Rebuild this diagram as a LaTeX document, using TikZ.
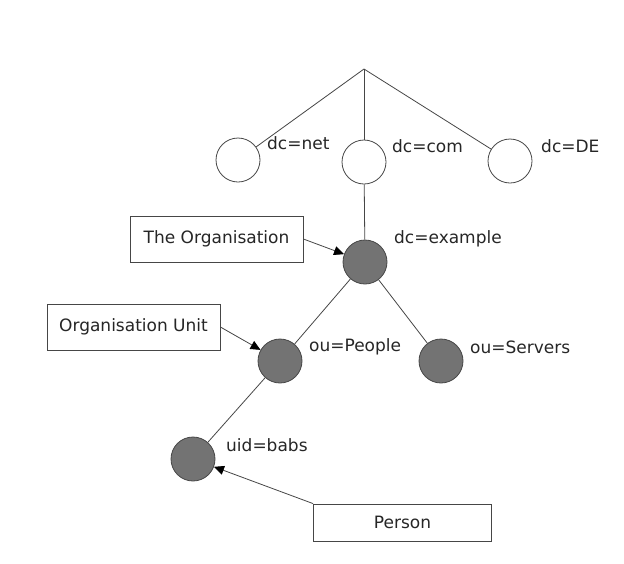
\documentclass[tikz,border=0pt]{standalone}
\usepackage{fontspec}
\setmainfont{DejaVu Sans}
\usepackage{tikz}
\usetikzlibrary{arrows.meta,positioning}
\definecolor{entgray}{RGB}{115,115,115}
\definecolor{edgegray}{RGB}{70,70,70}

\begin{document}
\begin{tikzpicture}[
    x=1pt, y=-1pt,
    dom/.style={circle, draw=edgegray, thick, fill=white, minimum size=44pt, inner sep=0pt},
    ent/.style={dom, fill=entgray},
    lbl/.style={anchor=west, font=\fontsize{17}{19}\selectfont, text=black!85, inner sep=0pt},
    callout/.style={rectangle, draw=edgegray, thick, fill=white, minimum width=173pt, minimum height=46pt, align=center, font=\fontsize{17}{19}\selectfont, text=black!85},
    link/.style={thick, edgegray},
    pointer/.style={-{Triangle[length=10pt,width=9pt,color=black]}, thick, edgegray}
]
\useasboundingbox (0,0) rectangle (624,563);

% ============ domain components ============
\coordinate (root) at (364,69);
\node[dom] (net) at (238,160) {};
\node[dom] (com) at (364,162) {};
\node[dom] (de)  at (510,161) {};
\node[lbl] (net-l) at (267,143) {dc=net};
\node[lbl] (com-l) at (392,146) {dc=com};
\node[lbl] (de-l)  at (541,146) {dc=DE};

\draw[link] (root) -- (net);
\draw[link] (root) -- (com);
\draw[link] (root) -- (de);

% ============ entries ============
\node[ent] (example) at (365,262) {};
\node[ent] (people)  at (280,361) {};
\node[ent] (servers) at (441,361) {};
\node[ent] (babs)    at (193,459) {};
\node[lbl] (example-l) at (394,239) {dc=example};
\node[lbl] (people-l)  at (309,347) {ou=People};
\node[lbl] (servers-l) at (470,347) {ou=Servers};
\node[lbl] (babs-l)    at (226,445) {uid=babs};

\draw[link] (com) -- (example);
\draw[link] (example) -- (people);
\draw[link] (example) -- (servers);
\draw[link] (people) -- (babs);

% ============ callouts ============
\node[callout] (org)    at (216.5,239) {The Organisation};
\node[callout] (unit)   at (133.5,327) {Organisation Unit};
\node[callout, minimum width=178pt, minimum height=37pt] (person) at (402.5,522.5) {Person};

\draw[pointer] (org.east) -- (example);
\draw[pointer] (unit.east) -- (people);
\draw[pointer] (person.north west) -- (babs);

\end{tikzpicture}
\end{document}
